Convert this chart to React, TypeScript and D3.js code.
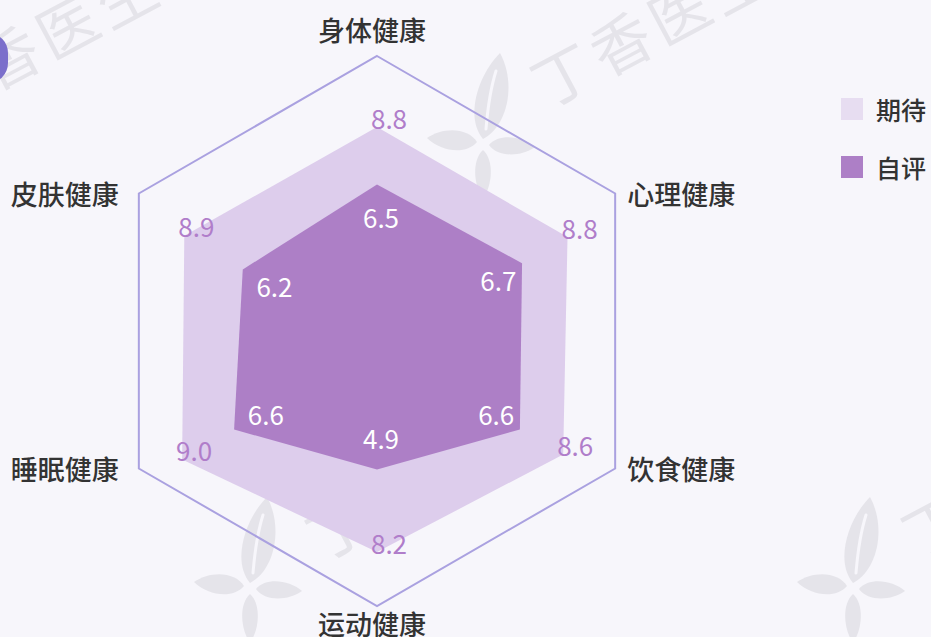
import React from 'react';
import * as d3 from 'd3';

const categories = ['身体健康', '心理健康', '饮食健康', '运动健康', '睡眠健康', '皮肤健康'];
const expectedValues = [8.8, 8.8, 8.6, 8.2, 9.0, 8.9];
const selfValues = [6.5, 6.7, 6.6, 4.9, 6.6, 6.2];
const seriesNames = ['期待', '自评'];
const maxValue = 10;

const W = 931;
const H = 637;
const FONT = '"Noto Sans CJK SC", "Noto Sans", sans-serif';

const BG = '#f7f6fb';
const FRAME = '#aaa1e0';
const LIGHT = '#ddcdec';
const LIGHT_LEGEND = '#e7ddf1';
const DARK = '#ad7fc6';
const LIGHT_TEXT = '#b07dca';
const WM = '#e5e4ea';

const frameCenter = { x: 377, y: 331 };
const dataCenter = { x: 377, y: 347 };
const rFrame = d3.scaleLinear().domain([0, maxValue]).range([0, 275]);
const rData = d3.scaleLinear().domain([0, maxValue]).range([0, 250]);
const angle = d3.scalePoint<number>().domain(d3.range(categories.length + 1)).range([0, 2 * Math.PI]);

const polar = (a: number, r: number) => [Math.sin(a) * r, -Math.cos(a) * r];

function almond(bx: number, by: number, tx: number, ty: number, w: number, skew = 0) {
  const dx = tx - bx, dy = ty - by;
  const len = Math.hypot(dx, dy);
  const nx = -dy / len, ny = dx / len;
  const p = d3.path();
  p.moveTo(bx, by);
  p.bezierCurveTo(bx + dx * 0.2 + nx * w, by + dy * 0.2 + ny * w, bx + dx * 0.7 + nx * w * (0.9 + skew), by + dy * 0.7 + ny * w * (0.9 + skew), tx, ty);
  p.bezierCurveTo(bx + dx * 0.7 - nx * w * (0.9 - skew), by + dy * 0.7 - ny * w * (0.9 - skew), bx + dx * 0.2 - nx * w, by + dy * 0.2 - ny * w, bx, by);
  p.closePath();
  return p.toString();
}

function Leaf({ x, y }: { x: number; y: number }) {
  return (
    <g transform={`translate(${x},${y})`} fill={WM}>
      <path d={almond(0, -4, 17, -90, 22, 0.1)} />
      <path d="M 3 -14 Q 6 -50 13 -72" stroke={BG} strokeWidth={3} fill="none" strokeLinecap="round" />
      <path d={almond(-6, -1, -56, -5, 14)} />
      <path d={almond(6, 2, 52, 4, 12)} />
      <path d={almond(0, 7, 0, 56, 11)} />
    </g>
  );
}

function Watermark({ x, y }: { x: number; y: number }) {
  return (
    <text x={x} y={y} transform={`rotate(-28 ${x} ${y})`} fontFamily={FONT} fontSize={60} fontWeight={400}
      fill={WM} letterSpacing={6}>
      丁香医生
    </text>
  );
}

export default function App() {
  const frameLine = d3.lineRadial<number>()
    .angle((_, i) => angle(i) as number)
    .radius((d) => rFrame(d))
    .curve(d3.curveLinearClosed);
  const dataLine = d3.lineRadial<number>()
    .angle((_, i) => angle(i) as number)
    .radius((d) => rData(d))
    .curve(d3.curveLinearClosed);

  const frameVals = categories.map(() => maxValue);

  return (
    <div style={{ position: 'fixed', left: 0, top: 0, width: W, height: H }}>
      <svg width={W} height={H} style={{ display: 'block' }}>
        <rect width={W} height={H} fill={BG} />
        {/* watermarks */}
        <Watermark x={-65} y={123} />
        <Watermark x={547} y={109} />
        <Watermark x={322} y={562} />
        <Watermark x={918} y={560} />
        <Leaf x={483} y={143} />
        <Leaf x={250} y={587} />
        <Leaf x={853} y={587} />
        <rect x={-40} y={33} width={48} height={50} rx={20} fill="#7b6fcb" />

        {/* frame */}
        <g transform={`translate(${frameCenter.x},${frameCenter.y})`}>
          <path d={frameLine(frameVals) || ''} fill="none" stroke={FRAME} strokeWidth={2} />
          {categories.map((c, i) => {
            const a = angle(i) as number;
            const [px, py] = polar(a, rFrame(maxValue));
            const s = Math.sin(a);
            let anchor: 'middle' | 'start' | 'end' = 'middle';
            let x = px, y = py;
            if (Math.abs(s) < 0.01) {
              x = px - 5;
              y = py + (py < 0 ? -27 : 17);
            } else if (s > 0) {
              anchor = 'start';
              x = px + 12;
            } else {
              anchor = 'end';
              x = px - 20;
            }
            return (
              <text key={c} x={x} y={y} textAnchor={anchor} dominantBaseline="central" fontFamily={FONT}
                fontSize={27} fontWeight={500} fill="#333">{c}</text>
            );
          })}
        </g>

        {/* data */}
        <g transform={`translate(${dataCenter.x},${dataCenter.y})`}>
          <path d={dataLine(expectedValues) || ''} fill={LIGHT} />
          <path d={dataLine(selfValues) || ''} fill={DARK} />
          {expectedValues.map((v, i) => {
            const [px, py] = polar(angle(i) as number, rData(v));
            return (
              <text key={'e' + i} x={px + 12} y={py - 10} textAnchor="middle" dominantBaseline="central"
                fontFamily={FONT} fontSize={26} fill={LIGHT_TEXT}>{v.toFixed(1)}</text>
            );
          })}
          {selfValues.map((v, i) => {
            const [px, py] = polar(angle(i) as number, rData(v) - 32);
            return (
              <text key={'s' + i} x={px + 4} y={py} textAnchor="middle" dominantBaseline="central"
                fontFamily={FONT} fontSize={26} fill="#fff">{v.toFixed(1)}</text>
            );
          })}
        </g>

        {/* legend */}
        {seriesNames.map((s, i) => (
          <g key={s} transform={`translate(841,${98 + i * 58})`}>
            <rect width={22} height={22} fill={i === 0 ? LIGHT_LEGEND : DARK} />
            <text x={35} y={11} dominantBaseline="central" fontFamily={FONT} fontSize={25} fontWeight={500} fill="#333">{s}</text>
          </g>
        ))}
      </svg>
    </div>
  );
}
